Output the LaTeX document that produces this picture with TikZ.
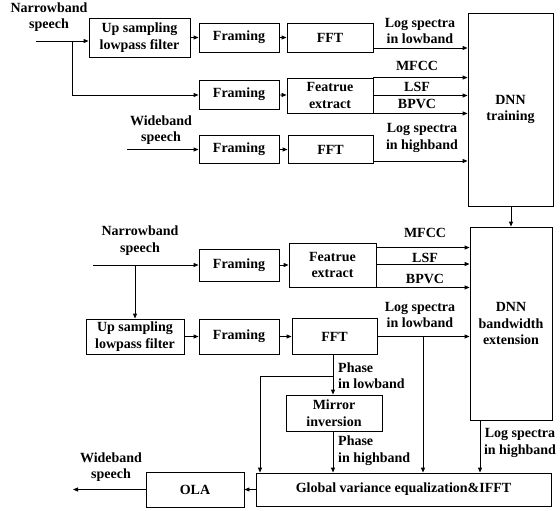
\documentclass[tikz,border=0pt]{standalone}
\usepackage{fontspec}
\setmainfont{Liberation Serif}
\usetikzlibrary{arrows.meta}
\newcommand\dgfont{\bfseries\fontsize{14}{16.5}\selectfont}
\begin{document}
\begin{tikzpicture}[x=1pt,y=-1pt,
  box/.style={draw, line width=0.9pt, inner sep=0pt, align=center, font=\dgfont},
  lbl/.style={inner sep=0pt, align=center, font=\dgfont},
  arr/.style={-{Triangle[length=5pt,width=4pt]}, line width=0.9pt},
  ln/.style={line width=0.9pt}]
\path[use as bounding box] (0,0) rectangle (560,511);

% ---------- top part ----------
\node[box, minimum width=101pt, minimum height=39pt] (upT) at (139.5,37.5) {Up sampling\\lowpass filter};
\node[box, minimum width=80pt, minimum height=29pt] (fr1) at (239,37.5) {Framing};
\node[box, minimum width=86pt, minimum height=29pt] (fft1) at (330,37.5) {FFT};
\node[box, minimum width=80pt, minimum height=29pt] (fr2) at (239,94.5) {Framing};
\node[box, minimum width=86pt, minimum height=35pt] (fe1) at (330,95.5) {Featrue\\extract};
\node[box, minimum width=80pt, minimum height=28pt] (fr3) at (239,149.5) {Framing};
\node[box, minimum width=85pt, minimum height=28pt] (fft2) at (330.5,149.5) {FFT};
\node[box, minimum width=85pt, minimum height=193pt] (dnnT) at (510.5,109.5) {DNN\\training};

\node[lbl] (nbT) at (49,17) {Narrowband\\speech};
\node[lbl] (wbT) at (161,130) {Wideband\\speech};
\node[lbl] (lsT) at (420,31) {Log spectra\\in lowband};
\node[lbl] (mfT) at (417,66) {MFCC};
\node[lbl] (lsfT) at (417,87) {LSF};
\node[lbl] (bpT) at (417,104) {BPVC};
\node[lbl] (hsT) at (422,138) {Log spectra\\in highband};

\coordinate (inT) at (36,41);
\coordinate (brT) at (72,41);
\coordinate (brT2) at (72,95);
\coordinate (inW) at (127,149.5);
\draw[arr] (inT) -- (upT.west |- inT);
\draw[ln] (brT) -- (brT2);
\draw[arr] (brT2) -- (fr2.west |- brT2);
\draw[arr] (upT.east |- fr1) -- (fr1.west);
\draw[arr] (fr1) -- (fft1);
\draw[arr] (fr2) -- (fe1);
\draw[arr] (inW) -- (fr3.west);
\draw[arr] (fr3) -- (fft2);
\draw[arr] ([yshift=-10.5pt]fft1.east) -- ([yshift=-10.5pt]fft1.east -| dnnT.west);
\draw[arr] (fe1.north east) -- (fe1.north east -| dnnT.west);
\draw[arr] (fe1.east) -- (fe1.east -| dnnT.west);
\draw[arr] (fe1.south east) -- (fe1.south east -| dnnT.west);
\draw[arr] ([yshift=-11.5pt]fft2.east) -- ([yshift=-11.5pt]fft2.east -| dnnT.west);

% ---------- bottom part ----------
\node[box, minimum width=80pt, minimum height=32pt] (frB1) at (239,265) {Framing};
\node[box, minimum width=87pt, minimum height=44pt] (feB) at (332.5,265) {Featrue\\extract};
\node[box, minimum width=98pt, minimum height=35pt] (upB) at (135,336.5) {Up sampling\\lowpass filter};
\node[box, minimum width=80pt, minimum height=35pt] (frB2) at (239,336.5) {Framing};
\node[box, minimum width=85pt, minimum height=36pt] (fftB) at (334.5,336.5) {FFT};
\node[box, minimum width=82pt, minimum height=193pt] (dnnB) at (511,323.5) {DNN\\bandwidth\\extension};
\node[box, minimum width=96pt, minimum height=36pt] (mir) at (334,413) {Mirror\\inversion};
\node[box, minimum width=295pt, minimum height=33pt] (gve) at (403.5,489.5) {Global variance equalization\&IFFT};
\node[box, minimum width=98pt, minimum height=35pt] (ola) at (195,489.5) {OLA};

\node[lbl] (nbB) at (140,240.5) {Narrowband\\speech};
\node[lbl] (mfB) at (425,233) {MFCC};
\node[lbl] (lsfB) at (425,258) {LSF};
\node[lbl] (bpB) at (425,279) {BPVC};
\node[lbl] (lsB) at (420,315) {Log spectra\\in lowband};
\node[lbl, anchor=west, align=left] (plB) at (338,375.5) {Phase\\in lowband};
\node[lbl, anchor=west, align=left] (phB) at (338,450.5) {Phase\\ in highband};
\node[lbl] (hsB) at (520,443) {Log spectra\\in highband};
\node[lbl] (wbB) at (111,467) {Wideband\\speech};

\coordinate (inB) at (93,265);
\coordinate (brB) at (135,265);
\coordinate (lowT) at (423,336.5);
\coordinate (phT) at (333,376);
\coordinate (phL) at (260,376);
\coordinate (outB) at (73,489.5);

\draw[arr] (dnnT.south -| 511,0) -- (dnnB.north -| 511,0);
\draw[arr] (inB) -- (frB1.west);
\draw[arr] (brB) -- (upB.north);
\draw[arr] (upB.east |- frB2) -- (frB2.west);
\draw[arr] (frB1) -- (feB);
\draw[arr] (frB2) -- (fftB);
\draw[arr] ([yshift=-5pt]feB.north east) -- ([yshift=-5pt]feB.north east -| dnnB.west);
\draw[arr] ([yshift=1pt]feB.east) -- ([yshift=1pt]feB.east -| dnnB.west);
\draw[arr] (feB.south east) -- (feB.south east -| dnnB.west);
\draw[arr] (fftB.east) -- (fftB.east -| dnnB.west);
\draw[arr] (lowT) -- (lowT |- gve.north);
\draw[arr] (fftB.south -| phT) -- (mir.north -| phT);
\draw[ln] (phT) -- (phL);
\draw[arr] (phL) -- (phL |- gve.north);
\draw[arr] (mir.south -| phT) -- (gve.north -| phT);
\draw[arr] (dnnB.south -| 480,0) -- (gve.north -| 480,0);
\draw[arr] (gve.west) -- (ola.east);
\draw[arr] (ola.west) -- (outB);
\end{tikzpicture}
\end{document}
